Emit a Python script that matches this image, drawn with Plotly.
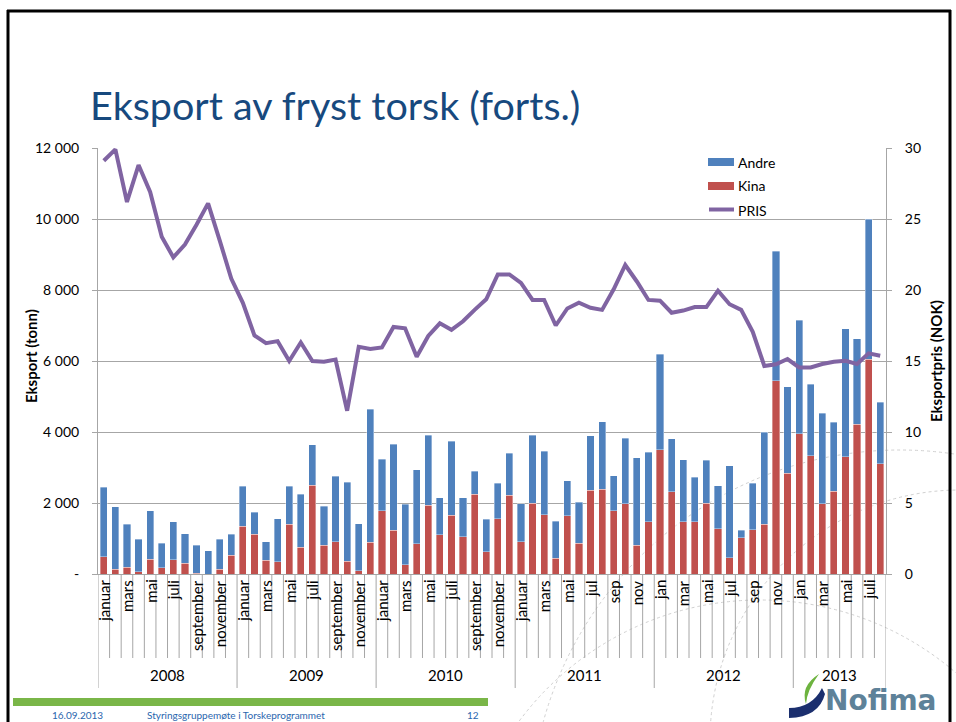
import plotly.graph_objects as go

# ---------------- data ----------------
years = ["2008", "2009", "2010", "2011", "2012", "2013"]
months_per_year = [12, 12, 12, 12, 12, 8]
month_labels = [
    ["januar", "", "mars", "", "mai", "", "juli", "", "september", "", "november", ""],
    ["januar", "", "mars", "", "mai", "", "juli", "", "september", "", "november", ""],
    ["januar", "", "mars", "", "mai", "", "juli", "", "september", "", "november", ""],
    ["januar", "", "mars", "", "mai", "", "jul", "", "sep", "", "nov", ""],
    ["jan", "", "mar", "", "mai", "", "jul", "", "sep", "", "nov", ""],
    ["jan", "", "mar", "", "mai", "", "juli", ""],
]

# total export (tonn) per month
total = [
    2450, 1890, 1400, 985, 1785, 863, 1474, 1127, 817, 657, 985, 1117,
    2470, 1737, 911, 1559, 2470, 2253, 3634, 1915, 2751, 2582, 1418, 4648,
    3230, 3662, 1962, 2930, 3915, 2150, 3737, 2150, 2901, 1549, 2554, 3399,
    1981, 3915, 3455, 1493, 2629, 2028, 3897, 4282, 2761, 3831, 3277, 3427,
    6197, 3812, 3221, 2723, 3202, 2488, 3052, 1239, 2554, 4000, 9089, 5268,
    7146, 5343, 4526, 4272, 6911, 6629, 10000, 4836,
]
kina = [
    480, 130, 190, 65, 413, 170, 395, 300, 20, 0, 130, 526,
    1343, 1117, 385, 347, 1399, 751, 2497, 808, 911, 357, 85, 892,
    1775, 1230, 263, 854, 1934, 1108, 1652, 1051, 2244, 629, 1559, 2225,
    911, 2000, 1671, 441, 1643, 873, 2357, 2385, 1775, 1981, 808, 1474,
    3502, 2319, 1474, 1465, 1991, 1277, 460, 1023, 1249, 1408, 5437, 2836,
    3953, 3333, 1981, 2338, 3305, 4225, 6047, 3108,
]
andre = [t - k for t, k in zip(total, kina)]
pris = [
    29.1, 29.9, 26.2, 28.8, 26.9, 23.75, 22.3, 23.2, 24.6, 26.1, 23.5, 20.8,
    19.1, 16.8, 16.25, 16.4, 15.0, 16.3, 15.0, 14.95, 15.1, 11.5, 16.0, 15.85,
    15.96, 17.4, 17.3, 15.3, 16.76, 17.65, 17.2, 17.8, 18.6, 19.35, 21.1, 21.1,
    20.5, 19.3, 19.3, 17.5, 18.7, 19.1, 18.75, 18.6, 20.05, 21.76, 20.6, 19.3,
    19.25, 18.4, 18.55, 18.8, 18.8, 19.95, 19.0, 18.6, 17.06, 14.65, 14.77, 15.14,
    14.55, 14.55, 14.79, 14.95, 15.02, 14.79, 15.54, 15.37,
]
left_ticks = [0, 2000, 4000, 6000, 8000, 10000, 12000]
left_ticktext = ["-", "2 000", "4 000", "6 000", "8 000", "10 000", "12 000"]
right_ticks = [0, 5, 10, 15, 20, 25, 30]

n = len(total)
xs = list(range(n))

# ---------------- geometry helpers ----------------
W, H = 956, 722
L, R, T, B = 98, 886, 148, 574


def px(x):
    return (x - L) / (R - L)


def py(y):
    return (B - y) / (B - T)


FONT = "Lato, Calibri, Carlito, sans-serif"
BLUE = "#4F81BD"
RED = "#C0504D"
PURPLE = "#8064A2"
GRID = "#A6A6A6"

fig = go.Figure()
fig.add_trace(go.Bar(x=xs, y=kina, name="Kina", marker=dict(color=RED, line=dict(color="rgba(255,255,255,0.6)", width=0.6)), yaxis="y"))
fig.add_trace(go.Bar(x=xs, y=andre, name="Andre", marker=dict(color=BLUE, line=dict(color="rgba(255,255,255,0.6)", width=0.6)), yaxis="y"))
fig.add_trace(go.Scatter(x=xs, y=pris, name="PRIS", mode="lines", line=dict(color=PURPLE, width=4), yaxis="y2"))

shapes = []
annotations = []

# category axis ticks (multi-level)
start = 0
for yi, cnt in enumerate(months_per_year):
    for m in range(cnt):
        idx = start + m
        lab = month_labels[yi][m]
        if lab:
            annotations.append(dict(x=idx, y=py(578), xref="x", yref="paper", text=lab,
                                    textangle=-90, showarrow=False, yanchor="top", xanchor="center",
                                    font=dict(family=FONT, size=15, color="#000000")))
    # year label
    annotations.append(dict(x=start + (cnt - 1) / 2, y=py(675), xref="x", yref="paper", text=years[yi],
                            showarrow=False, xanchor="center", yanchor="middle",
                            font=dict(family=FONT, size=15, color="#000000")))
    start += cnt

bounds_year = set()
s = 0
for cnt in months_per_year:
    bounds_year.add(s)
    s += cnt
bounds_year.add(s)
for b in range(n + 1):
    y_end = 688 if b in bounds_year else 658
    shapes.append(dict(type="line", xref="x", yref="paper", x0=b - 0.5, x1=b - 0.5,
                       y0=0, y1=py(y_end), line=dict(color=GRID, width=1), layer="above"))

# legend drawn manually
shapes.append(dict(type="rect", xref="paper", yref="paper", x0=px(708), x1=px(734), y0=py(158), y1=py(166),
                   fillcolor=BLUE, line=dict(width=0)))
shapes.append(dict(type="rect", xref="paper", yref="paper", x0=px(708), x1=px(734), y0=py(182), y1=py(190),
                   fillcolor=RED, line=dict(width=0)))
shapes.append(dict(type="line", xref="paper", yref="paper", x0=px(709), x1=px(734), y0=py(209.5), y1=py(209.5),
                   line=dict(color=PURPLE, width=4)))
for txt, yy in [("Andre", 162), ("Kina", 186), ("PRIS", 210)]:
    annotations.append(dict(x=px(736), y=py(yy), xref="paper", yref="paper", text=txt, showarrow=False,
                            xanchor="left", yanchor="middle", font=dict(family=FONT, size=14, color="#000000")))

# title
annotations.append(dict(x=px(88), y=py(104), xref="paper", yref="paper", text="Eksport av fryst torsk (forts.)",
                        showarrow=False, xanchor="left", yanchor="middle",
                        font=dict(family=FONT, size=39.5, color="#17497E")))

# axis titles
annotations.append(dict(x=px(31), y=py(356), xref="paper", yref="paper", text="<b>Eksport (tonn)</b>",
                        textangle=-90, showarrow=False, xanchor="center", yanchor="middle",
                        font=dict(family=FONT, size=15, color="#000000")))
annotations.append(dict(x=px(936), y=py(361), xref="paper", yref="paper", text="<b>Eksportpris (NOK)</b>",
                        textangle=-90, showarrow=False, xanchor="center", yanchor="middle",
                        font=dict(family=FONT, size=15, color="#000000")))

# slide frame
shapes.append(dict(type="line", xref="paper", yref="paper", x0=px(7), x1=px(951), y0=py(11), y1=py(11),
                   line=dict(color="#000000", width=3)))
shapes.append(dict(type="line", xref="paper", yref="paper", x0=px(8), x1=px(8), y0=py(10), y1=py(722),
                   line=dict(color="#000000", width=3)))
shapes.append(dict(type="line", xref="paper", yref="paper", x0=px(950), x1=px(950), y0=py(10), y1=py(722),
                   line=dict(color="#000000", width=3)))

# footer
shapes.append(dict(type="rect", xref="paper", yref="paper", x0=px(13), x1=px(488), y0=py(698), y1=py(706),
                   fillcolor="#7AB648", line=dict(width=0)))
for txt, xx in [("16.09.2013", 50), ("Styringsgruppemøte i Torskeprogrammet", 145), ("12", 465)]:
    annotations.append(dict(x=px(xx), y=py(715), xref="paper", yref="paper", text=txt, showarrow=False,
                            xanchor="left", yanchor="middle", font=dict(family=FONT, size=10, color="#2A66AE")))

# decorative dotted arcs
for (cx, cy, r) in [(900, 820, 370), (960, 740, 250), (760, 900, 300)]:
    shapes.append(dict(type="circle", xref="paper", yref="paper", x0=px(cx - r), x1=px(cx + r),
                       y0=py(cy + r), y1=py(cy - r), line=dict(color="#D0D0D0", width=1, dash="dot"),
                       layer="below"))


# Nofima logo
def path(points_cmds):
    out = []
    for c in points_cmds:
        if isinstance(c, str):
            out.append(c)
        else:
            out.append(f"{px(c[0]):.5f},{py(c[1]):.5f}")
    return " ".join(out)


green_leaf = path(["M", (819, 674), "Q", (800, 686), (806, 704), "Q", (807, 690), (819, 674), "Z"])
navy = path(["M", (789, 708), "Q", (812, 708), (822, 688), "L", (825, 694), "Q", (819, 717), (789, 718), "Z"])
shapes.append(dict(type="path", xref="paper", yref="paper", path=green_leaf, fillcolor="#6DB33F",
                   line=dict(width=0)))
shapes.append(dict(type="path", xref="paper", yref="paper", path=navy, fillcolor="#1B2F6E",
                   line=dict(width=0)))
annotations.append(dict(x=px(823), y=py(700), xref="paper", yref="paper", text="<b>Nofima</b>",
                        showarrow=False, xanchor="left", yanchor="middle",
                        font=dict(family="DejaVu Sans, sans-serif", size=28, color="#5E8299")))

fig.update_layout(
    width=W, height=H,
    margin=dict(l=L, r=W - R, t=T, b=H - B, pad=0),
    paper_bgcolor="white", plot_bgcolor="rgba(0,0,0,0)",
    barmode="stack", bargap=0.38,
    showlegend=False,
    font=dict(family=FONT, size=13, color="#000000"),
    xaxis=dict(range=[-0.5, n - 0.5], showticklabels=False, showgrid=False, zeroline=False,
               showline=True, linecolor=GRID, linewidth=1, ticks=""),
    yaxis=dict(range=[0, 12000], tickvals=left_ticks, ticktext=left_ticktext, showgrid=True,
               gridcolor=GRID, gridwidth=1, zeroline=False, showline=True, linecolor=GRID,
               ticks="outside", ticklen=5, tickcolor=GRID, ticklabelstandoff=10,
               tickfont=dict(family=FONT, size=14, color="#000000")),
    yaxis2=dict(range=[0, 30], tickvals=right_ticks, overlaying="y", side="right", showgrid=False,
                zeroline=False, showline=True, linecolor=GRID, ticks="outside", ticklen=5,
                tickcolor=GRID, ticklabelstandoff=10, tickfont=dict(family=FONT, size=14, color="#000000")),
    shapes=shapes, annotations=annotations,
)

fig.write_html("out.html", config={"displayModeBar": False},
               post_script="document.body.style.margin='0px';document.body.style.padding='0px';")
